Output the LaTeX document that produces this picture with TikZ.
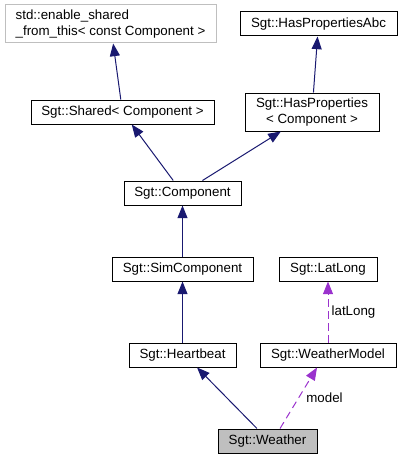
\documentclass[tikz,border=0pt]{standalone}
\usepackage{fontspec}
\setmainfont{Liberation Sans}
\usetikzlibrary{arrows.meta}
\definecolor{edgeblue}{HTML}{191970}
\definecolor{edgepurple}{HTML}{9A32CD}
\definecolor{boxgray}{HTML}{BFBFBF}
\begin{document}
\begin{tikzpicture}[x=0.75pt,y=-0.75pt,
  cls/.style={draw=black,line width=0.75pt,inner sep=0pt,font=\fontsize{10}{12}\selectfont,align=center},
  inh/.style={draw=edgeblue,line width=0.75pt,-{Triangle[length=9.5pt,width=7.5pt]}},
  use/.style={draw=edgepurple,line width=0.75pt,dashed,dash pattern=on 5.5pt off 3.5pt,-{Triangle[length=9.5pt,width=7.5pt]}},
  lbl/.style={font=\fontsize{10}{12}\selectfont,inner sep=0pt}]
\useasboundingbox (0,0) rectangle (402,460);
\node[cls,draw=boxgray,minimum width=158.25pt,minimum height=28.5pt,align=left] (es) at (110.5,24) {std::enable\_shared\\\_from\_this< const Component >};
\node[cls,minimum width=117.75pt,minimum height=18pt] (hpa) at (318.5,24) {Sgt::HasPropertiesAbc};
\node[cls,minimum width=137.25pt,minimum height=18pt] (sh) at (122.5,112) {Sgt::Shared< Component >};
\node[cls,minimum width=100.5pt,minimum height=28.5pt] (hp) at (312,112) {Sgt::HasProperties\\< Component >};
\node[cls,minimum width=87.75pt,minimum height=18pt] (comp) at (182.5,193) {Sgt::Component};
\node[cls,minimum width=105.75pt,minimum height=18pt] (sim) at (182.5,269) {Sgt::SimComponent};
\node[cls,minimum width=73.5pt,minimum height=18pt] (ll) at (328,269) {Sgt::LatLong};
\node[cls,minimum width=80.25pt,minimum height=18pt] (hb) at (182.5,355) {Sgt::Heartbeat};
\node[cls,minimum width=102pt,minimum height=18pt] (wm) at (328,355) {Sgt::WeatherModel};
\node[cls,fill=boxgray,minimum width=74.25pt,minimum height=18pt] (w) at (267.5,441) {Sgt::Weather};
\draw[inh] (sh) -- (es);
\draw[inh] (hp) -- (hpa);
\draw[inh] (comp) -- (sh);
\draw[inh] (comp) -- (hp);
\draw[inh] (sim) -- (comp);
\draw[inh] (hb) -- (sim);
\draw[inh] ([xshift=-7.9pt]w.north) -- ([xshift=10.9pt]hb.south);
\draw[use] ([xshift=9.4pt]w.north) -- ([xshift=-8.25pt]wm.south);
\draw[use] (wm) -- (ll);
\node[lbl] (lm) at (324.5,398) {model};
\node[lbl] (lll) at (353.5,312) {latLong};
\end{tikzpicture}
\end{document}
